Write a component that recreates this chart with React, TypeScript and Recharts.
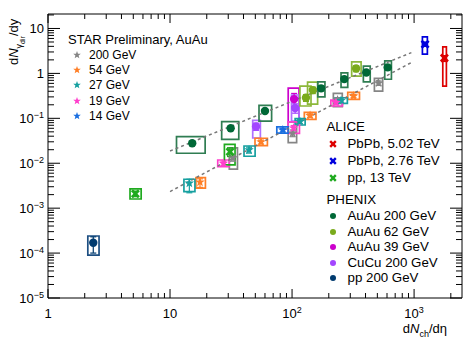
import React from 'react'
import { ScatterChart, Scatter, XAxis, YAxis, ErrorBar, ReferenceArea, ReferenceLine } from 'recharts'

type Pt = { x: number; y: number; ey: [number, number]; box: [number, number, number, number] }

// STAR Preliminary, AuAu  (box = [xLow, xHigh, yLow, yHigh] systematic)
const star200: Pt[] = [
  { x: 32.8, y: 0.0131, ey: [0.002, 0.002], box: [30.6, 35.7, 0.0074, 0.0219] },
  { x: 101, y: 0.047, ey: [0.008, 0.008], box: [93, 109, 0.0287, 0.083] },
  { x: 236, y: 0.255, ey: [0.03, 0.03], box: [218, 258, 0.183, 0.36] },
  { x: 512, y: 0.61, ey: [0.07, 0.07], box: [473, 553, 0.405, 0.774] },
]
const star54: Pt[] = [
  { x: 17.6, y: 0.0038, ey: [0.0009, 0.0007], box: [16.3, 19.5, 0.0028, 0.0048] },
  { x: 55.7, y: 0.0298, ey: [0.003, 0.003], box: [49.7, 62.8, 0.0246, 0.036] },
  { x: 140.5, y: 0.1155, ey: [0.01, 0.01], box: [126, 157, 0.095, 0.136] },
  { x: 319, y: 0.313, ey: [0.025, 0.025], box: [286, 357, 0.264, 0.378] },
]
const star27: Pt[] = [
  { x: 14.4, y: 0.0036, ey: [0.0014, 0.0008], box: [13.0, 16.0, 0.00234, 0.0044] },
  { x: 44.4, y: 0.0198, ey: [0.003, 0.003], box: [40.4, 49.8, 0.0143, 0.0242] },
  { x: 116, y: 0.085, ey: [0.008, 0.008], box: [106, 128, 0.071, 0.098] },
  { x: 252, y: 0.249, ey: [0.02, 0.02], box: [225, 284, 0.215, 0.287] },
]
const star19: Pt[] = [
  { x: 27.4, y: 0.01, ey: [0.0012, 0.0012], box: [24.6, 30.6, 0.0084, 0.0118] },
  { x: 103, y: 0.061, ey: [0.008, 0.008], box: [92.7, 115, 0.0464, 0.083] },
  { x: 229, y: 0.225, ey: [0.02, 0.02], box: [208, 259, 0.188, 0.255] },
]
const star14: Pt[] = [
  { x: 84, y: 0.055, ey: [0.005, 0.005], box: [75, 93, 0.047, 0.0642] },
]

// ALICE
const alice502: Pt[] = [
  { x: 1771, y: 2.19, ey: [0.35, 0.3], box: [1719, 1840, 0.52, 3.9] },
]
const alice276: Pt[] = [
  { x: 1231, y: 4.48, ey: [0.5, 0.5], box: [1170, 1285, 2.69, 6.5] },
]
const alicePp13: Pt[] = [
  { x: 5.2, y: 0.0021, ey: [0.0003, 0.0003], box: [4.7, 5.8, 0.0016, 0.0027] },
  { x: 31.0, y: 0.0181, ey: [0.004, 0.004], box: [27.9, 34.1, 0.0092, 0.0264] },
]

// PHENIX
const phxAu200: Pt[] = [
  { x: 15.2, y: 0.0278, ey: [0.003, 0.003], box: [11.3, 19.4, 0.0167, 0.039] },
  { x: 31.4, y: 0.06, ey: [0.006, 0.006], box: [26.5, 36.6, 0.034, 0.084] },
  { x: 60, y: 0.145, ey: [0.015, 0.015], box: [53.6, 68, 0.087, 0.194] },
  { x: 173, y: 0.465, ey: [0.05, 0.05], box: [162.5, 186, 0.3, 0.65] },
  { x: 268, y: 0.746, ey: [0.08, 0.08], box: [252, 286, 0.489, 1.03] },
  { x: 406, y: 1.05, ey: [0.1, 0.1], box: [384, 437, 0.65, 1.45] },
  { x: 608, y: 1.36, ey: [0.15, 0.15], box: [575, 652, 0.74, 1.9] },
]
const phxAu62: Pt[] = [
  { x: 130, y: 0.288, ey: [0.05, 0.05], box: [116, 143, 0.188, 0.52] },
  { x: 148, y: 0.425, ey: [0.07, 0.07], box: [134, 162, 0.208, 0.64] },
  { x: 335, y: 1.29, ey: [0.2, 0.2], box: [308, 368, 0.87, 1.81] },
]
const phxAu39: Pt[] = [
  { x: 104, y: 0.268, ey: [0.09, 0.09], box: [93, 114, 0.083, 0.47] },
]
const phxCu200: Pt[] = [
  { x: 50.7, y: 0.066, ey: [0.012, 0.012], box: [47.6, 55, 0.0365, 0.09] },
  { x: 106, y: 0.17, ey: [0.04, 0.04], box: [99, 114, 0.087, 0.33] },
]
const phxPp200: Pt[] = [
  { x: 2.35, y: 0.00017, ey: [0.00007, 0.00006], box: [2.12, 2.62, 0.00009, 0.00024] },
]

// dashed fit lines (endpoints)
const fitUpper = [{ x: 10, y: 0.0187 }, { x: 950, y: 2.9 }]
const fitLower = [{ x: 10, y: 0.00234 }, { x: 950, y: 1.75 }]

// axes
const xDomain = [1, 2470]
const yDomain = [1e-5, 21]
const xMajor = [1, 10, 100, 1000]
const xLabels = [['1', ''], ['10', ''], ['10', '2'], ['10', '3']]
const yMajor = [1e-5, 1e-4, 1e-3, 1e-2, 1e-1, 1, 10]
const yLabels = [['10', '\u22125'], ['10', '\u22124'], ['10', '\u22123'], ['10', '\u22122'], ['10', '\u22121'], ['1', ''], ['10', '']]
const minorMult = [2, 3, 4, 5, 6, 7, 8, 9]
const xTicks = [...xMajor, ...xMajor.flatMap(d => minorMult.map(m => m * d))].filter(v => v <= xDomain[1])
const yTicks = [...yMajor, ...yMajor.flatMap(d => minorMult.map(m => m * d))].filter(v => v <= yDomain[1])

const W = 476
const H = 343
const TOP = 14
const BOTTOM = 298
const LEFT = 48
const RIGHT = 462
const FONT = '"Liberation Sans", Arial, Helvetica, sans-serif'

const C = {
  s200: '#858585', s54: '#ff7f27', s27: '#16a0a0', s19: '#ff3fcc', s14: '#1a6fe0',
  a502: '#dd0000', a276: '#0000dd', app: '#1faa1f',
  pAu200: '#006837', pAu62: '#7aab1c', pAu39: '#cc00cc', pCu: '#a346ff', pPp: '#003b6f',
}
const boxC = {
  pAu200: '#2f7d52', pAu62: '#8cb83a', pCu: '#b070ff', pPp: '#1d4f82',
}

function starPts(cx: number, cy: number, R: number, r: number) {
  const pts: string[] = []
  for (let k = 0; k < 10; k++) {
    const a = -Math.PI / 2 + (k * Math.PI) / 5
    const rr = k % 2 === 0 ? R : r
    pts.push(`${cx + rr * Math.cos(a)},${cy + rr * Math.sin(a)}`)
  }
  return pts.join(' ')
}

const StarMark = ({ cx, cy, color, R = 5 }: any) => <polygon points={starPts(cx, cy, R, R * 0.42)} fill={color} />
const CrossMark = ({ cx, cy, color, s = 3.5, w = 2.8 }: any) => (
  <g stroke={color} strokeWidth={w}>
    <line x1={cx - s} y1={cy - s} x2={cx + s} y2={cy + s} />
    <line x1={cx - s} y1={cy + s} x2={cx + s} y2={cy - s} />
  </g>
)
const DotMark = ({ cx, cy, color, r = 4 }: any) => <circle cx={cx} cy={cy} r={r} fill={color} />

const shapeFor = (kind: string, color: string) => (p: any) => {
  if (kind === 'star') return <StarMark cx={p.cx} cy={p.cy} color={color} />
  if (kind === 'cross') return <CrossMark cx={p.cx} cy={p.cy} color={color} />
  return <DotMark cx={p.cx} cy={p.cy} color={color} r={4.2} />
}

const series = [
  { id: 'pAu39', data: phxAu39, color: C.pAu39, box: C.pAu39, kind: 'dot' },
  { id: 'pCu', data: phxCu200, color: C.pCu, box: boxC.pCu, kind: 'dot' },
  { id: 'pAu62', data: phxAu62, color: C.pAu62, box: boxC.pAu62, kind: 'dot' },
  { id: 'pAu200', data: phxAu200, color: C.pAu200, box: boxC.pAu200, kind: 'dot' },
  { id: 'pPp', data: phxPp200, color: C.pPp, box: boxC.pPp, kind: 'dot' },
  { id: 's200', data: star200, color: C.s200, box: C.s200, kind: 'star' },
  { id: 's54', data: star54, color: C.s54, box: C.s54, kind: 'star' },
  { id: 's27', data: star27, color: C.s27, box: C.s27, kind: 'star' },
  { id: 's19', data: star19, color: C.s19, box: C.s19, kind: 'star' },
  { id: 's14', data: star14, color: C.s14, box: C.s14, kind: 'star' },
  { id: 'app', data: alicePp13, color: C.app, box: C.app, kind: 'cross' },
  { id: 'a276', data: alice276, color: C.a276, box: C.a276, kind: 'cross' },
  { id: 'a502', data: alice502, color: C.a502, box: C.a502, kind: 'cross' },
]

const XTick = (props: any) => {
  const { x, payload } = props
  const i = xMajor.indexOf(payload.value)
  const len = i >= 0 ? 9 : 5
  return (
    <g>
      <line x1={x} x2={x} y1={BOTTOM} y2={BOTTOM - len} stroke="#000" />
      <line x1={x} x2={x} y1={TOP} y2={TOP + len} stroke="#000" />
      {i >= 0 && (
        <text x={x} y={318} textAnchor="middle" fontSize={13} fontFamily={FONT} fill="#000">
          {xLabels[i][0]}
          {xLabels[i][1] && <tspan dy={-5} fontSize={9}>{xLabels[i][1]}</tspan>}
        </text>
      )}
    </g>
  )
}

const YTick = (props: any) => {
  const { y, payload } = props
  const i = yMajor.findIndex(v => Math.abs(v - payload.value) / v < 1e-6)
  const len = i >= 0 ? 12 : 6
  return (
    <g>
      <line x1={LEFT} x2={LEFT + len} y1={y} y2={y} stroke="#000" />
      <line x1={RIGHT} x2={RIGHT - len} y1={y} y2={y} stroke="#000" />
      {i >= 0 && (
        <text x={44} y={y + 4.5} textAnchor="end" fontSize={13} fontFamily={FONT} fill="#000">
          {yLabels[i][0]}
          {yLabels[i][1] && <tspan dy={-5} fontSize={9}>{yLabels[i][1]}</tspan>}
        </text>
      )}
    </g>
  )
}

const LegendRow = ({ top, left, textLeft, size, kind, color, label }: any) => (
  <>
    <svg style={{ position: 'absolute', left: left - 6, top: top - 6 }} width={12} height={12}>
      {kind === 'star' && <StarMark cx={6} cy={6} color={color} R={4} />}
      {kind === 'cross' && <CrossMark cx={6} cy={6} color={color} s={2.8} w={2.4} />}
      {kind === 'dot' && <DotMark cx={6} cy={6} color={color} r={3} />}
    </svg>
    <div style={{ position: 'absolute', left: textLeft, top: top - 8, lineHeight: '16px', fontSize: size, whiteSpace: 'nowrap' }}>{label}</div>
  </>
)

const starLegend = [
  { label: '200 GeV', color: C.s200 },
  { label: '54 GeV', color: C.s54 },
  { label: '27 GeV', color: C.s27 },
  { label: '19 GeV', color: C.s19 },
  { label: '14 GeV', color: C.s14 },
]
const aliceLegend = [
  { label: 'PbPb, 5.02 TeV', color: C.a502 },
  { label: 'PbPb, 2.76 TeV', color: C.a276 },
  { label: 'pp, 13 TeV', color: C.app },
]
const phenixLegend = [
  { label: 'AuAu 200 GeV', color: C.pAu200 },
  { label: 'AuAu 62 GeV', color: C.pAu62 },
  { label: 'AuAu 39 GeV', color: C.pAu39 },
  { label: 'CuCu 200 GeV', color: C.pCu },
  { label: 'pp 200 GeV', color: C.pPp },
]

export default function App() {
  return (
    <div style={{ position: 'absolute', left: 0, top: 0, width: W, height: H, background: '#fff', fontFamily: FONT, color: '#000' }}>
      <ScatterChart width={W} height={H} margin={{ top: TOP, right: W - RIGHT, left: 0, bottom: 0 }}>
        <XAxis type="number" dataKey="x" scale="log" domain={xDomain} ticks={xTicks} interval={0}
          tick={(p: any) => <XTick {...p} />} tickLine={false} axisLine={false} height={H - BOTTOM} allowDataOverflow />
        <YAxis type="number" dataKey="y" scale="log" domain={yDomain} ticks={yTicks} interval={0}
          tick={(p: any) => <YTick {...p} />} tickLine={false} axisLine={false} width={LEFT} allowDataOverflow />
        <ReferenceArea x1={xDomain[0]} x2={xDomain[1]} y1={yDomain[0]} y2={yDomain[1]} fill="none" stroke="#000" strokeWidth={1} ifOverflow="visible" />
        {series.flatMap(s => s.data.map((p, i) => (
          <ReferenceArea key={s.id + i} x1={p.box[0]} x2={p.box[1]} y1={p.box[2]} y2={p.box[3]}
            fill="none" fillOpacity={0} stroke={s.box} strokeWidth={1.7} ifOverflow="visible" />
        )))}
        <ReferenceLine segment={fitUpper} stroke="#777" strokeWidth={1.5} strokeDasharray="3 3" ifOverflow="visible" />
        <ReferenceLine segment={fitLower} stroke="#777" strokeWidth={1.5} strokeDasharray="3 3" ifOverflow="visible" />
        {series.map(s => (
          <Scatter key={s.id} data={s.data} fill={s.color} shape={shapeFor(s.kind, s.color)} isAnimationActive={false}>
            <ErrorBar dataKey="ey" direction="y" width={3} stroke={s.color} strokeWidth={1.2} />
          </Scatter>
        ))}
      </ScatterChart>

      {/* axis titles */}
      <div style={{ position: 'absolute', left: 6, top: 65, transform: 'rotate(-90deg)', transformOrigin: '0 0', fontSize: 13, lineHeight: '16px', whiteSpace: 'nowrap' }}>
        d<i>N</i><sub style={{ fontSize: 9 }}>γ<sub style={{ fontSize: 7 }}>dir</sub></sub>/dy
      </div>
      <div style={{ position: 'absolute', right: 29, top: 321, fontSize: 13, lineHeight: '16px', whiteSpace: 'nowrap' }}>
        d<i>N</i><sub style={{ fontSize: 9 }}>ch</sub>/dη
      </div>

      {/* STAR legend */}
      <div style={{ position: 'absolute', left: 68, top: 32, fontSize: 13, lineHeight: '16px', whiteSpace: 'nowrap' }}>STAR Preliminary, AuAu</div>
      {starLegend.map((e, i) => (
        <LegendRow key={e.label} top={55 + i * 15.2} left={77} textLeft={89} size={12} kind="star" color={e.color} label={e.label} />
      ))}

      {/* ALICE legend */}
      <div style={{ position: 'absolute', left: 326.5, top: 119, fontSize: 13.3, lineHeight: '16px' }}>ALICE</div>
      {aliceLegend.map((e, i) => (
        <LegendRow key={e.label} top={143.5 + i * 17.4} left={332.5} textLeft={347.5} size={13.3} kind="cross" color={e.color} label={e.label} />
      ))}

      {/* PHENIX legend */}
      <div style={{ position: 'absolute', left: 326.5, top: 191.5, fontSize: 13.3, lineHeight: '16px' }}>PHENIX</div>
      {phenixLegend.map((e, i) => (
        <LegendRow key={e.label} top={216 + i * 15.6} left={332.5} textLeft={347.5} size={13.3} kind="dot" color={e.color} label={e.label} />
      ))}
    </div>
  )
}
